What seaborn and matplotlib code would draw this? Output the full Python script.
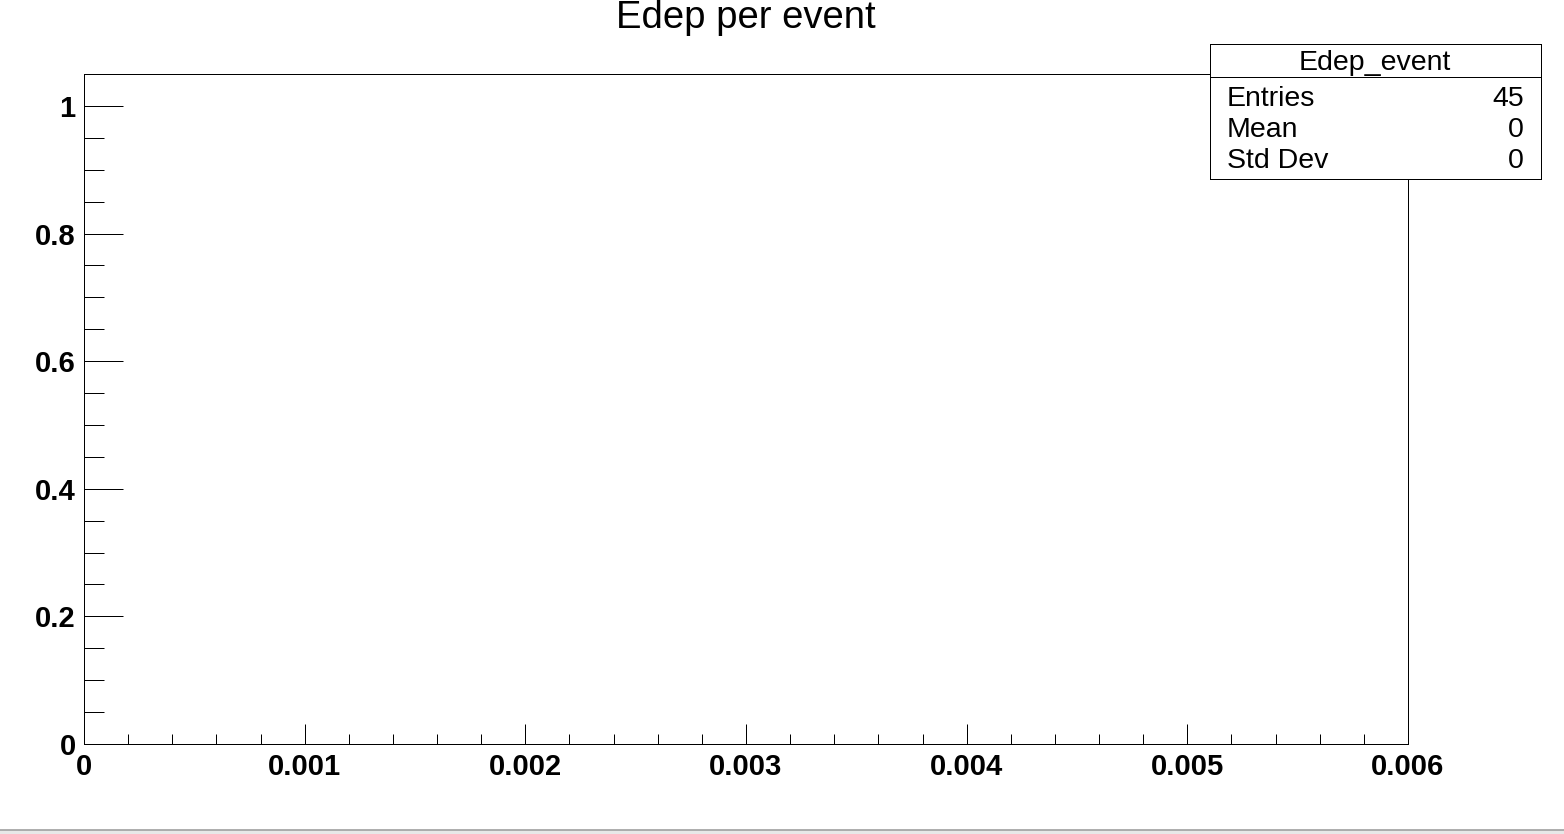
"""
Edep per event - histograma vazio no estilo ROOT
"""

import matplotlib.pyplot as plt
import matplotlib.ticker as mticker
import numpy as np
import seaborn as sns
from matplotlib.patches import Rectangle

# Dados do histograma
hist_name = "Edep_event"
hist_title = "Edep per event"
x_lo, x_hi = 0.0, 0.006
n_bins = 100
bin_counts = np.zeros(n_bins)  # nenhuma entrada dentro do intervalo
stats_labels = ["Entries", "Mean", "Std Dev"]
stats_values = ["45", "0", "0"]
x_ticks = [0.0, 0.001, 0.002, 0.003, 0.004, 0.005, 0.006]
x_tick_labels = ["0", "0.001", "0.002", "0.003", "0.004", "0.005", "0.006"]
y_ticks = [0.0, 0.2, 0.4, 0.6, 0.8, 1.0]
y_tick_labels = ["0", "0.2", "0.4", "0.6", "0.8", "1"]

sns.set_style("white")
plt.rcParams["font.family"] = ["Liberation Sans", "DejaVu Sans"]
plt.rcParams["text.color"] = "black"
plt.rcParams["xtick.color"] = "black"
plt.rcParams["ytick.color"] = "black"

W, H = 1564, 834
fig = plt.figure(figsize=(W / 100, H / 100), dpi=100)


def fx(px):
    return px / W


def fy(py):
    return 1 - py / H


# Eixo principal (pixels: x 84..1408, y 74..744)
ax = fig.add_axes([fx(84), fy(744), fx(1408) - fx(84), fy(74) - fy(744)])

bin_w = (x_hi - x_lo) / n_bins
bin_centers = x_lo + bin_w * (np.arange(n_bins) + 0.5)
sns.histplot(
    x=bin_centers,
    weights=bin_counts,
    bins=n_bins,
    binrange=(x_lo, x_hi),
    element="step",
    fill=False,
    color="black",
    linewidth=0.72,
    ax=ax,
)

ax.set_xlim(x_lo, x_hi)
ax.set_ylim(0, 1.05)
ax.set_xlabel("")
ax.set_ylabel("")

ax.xaxis.set_major_locator(mticker.FixedLocator(x_ticks))
ax.set_xticklabels(x_tick_labels)
ax.xaxis.set_minor_locator(mticker.MultipleLocator(0.0002))
ax.yaxis.set_major_locator(mticker.FixedLocator(y_ticks))
ax.set_yticklabels(y_tick_labels)
ax.yaxis.set_minor_locator(mticker.MultipleLocator(0.05))

for s in ax.spines.values():
    s.set_linewidth(0.72)
    s.set_color("black")

ax.tick_params(axis="x", which="major", direction="in", length=14.4, width=0.72,
               pad=6.5, labelsize=21, labelcolor="black", bottom=True, top=False)
ax.tick_params(axis="x", which="minor", direction="in", length=7.2, width=0.72,
               bottom=True, top=False)
ax.tick_params(axis="y", which="major", direction="in", length=28, width=0.72,
               pad=6, labelsize=21, labelcolor="black", left=True, right=False)
ax.tick_params(axis="y", which="minor", direction="in", length=14.4, width=0.72,
               left=True, right=False)
for lab in ax.get_xticklabels() + ax.get_yticklabels():
    lab.set_fontweight("bold")

# Título
fig.text(fx(746), fy(28), hist_title, ha="center", va="baseline",
         fontsize=27.5, color="black")

# Caixa de estatísticas (pixels: x 1210..1541, y 44..179)
sx = fig.add_axes([fx(1210), fy(179), fx(1541) - fx(1210), fy(44) - fy(179)])
sx.set_xlim(1210, 1541)
sx.set_ylim(179, 44)
sx.set_xticks([])
sx.set_yticks([])
sx.set_facecolor("white")
for s in sx.spines.values():
    s.set_linewidth(0.72)
    s.set_color("black")
sx.plot([1210, 1541], [77, 77], color="black", linewidth=0.72)
sx.text(1375, 70, hist_name, ha="center", va="baseline", fontsize=20.5)
for label, valor, y in zip(stats_labels, stats_values, [106, 137, 168]):
    sx.text(1227, y, label, ha="left", va="baseline", fontsize=20.5)
    sx.text(1524, y, valor, ha="right", va="baseline", fontsize=20.5)

# Barra cinza inferior (janela)
fig.patches.append(
    Rectangle((0, 0), 1, fy(830), transform=fig.transFigure,
              facecolor="#e8e8e8", edgecolor="none", zorder=0)
)
fig.lines.append(
    plt.Line2D([0, 1], [fy(830), fy(830)], transform=fig.transFigure,
               color="#a0a0a0", linewidth=1.2)
)

fig.savefig("out.png", dpi=100)
plt.close(fig)
